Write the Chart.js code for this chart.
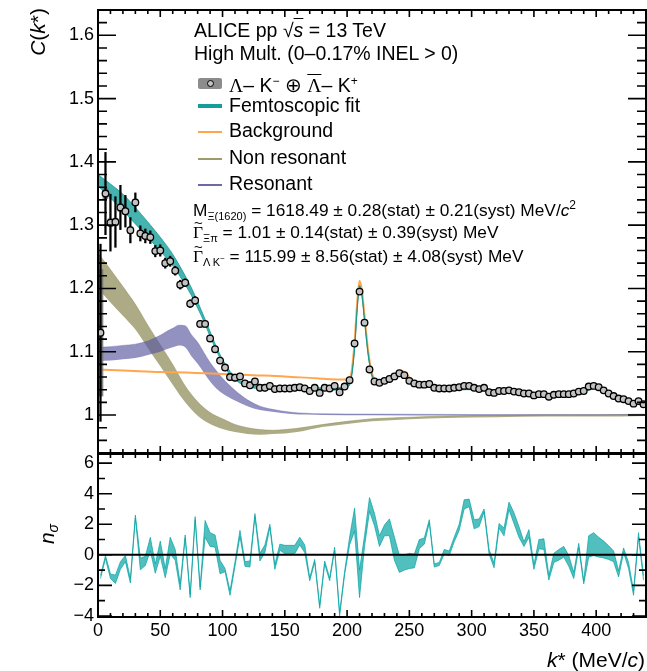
<!DOCTYPE html>
<html>
<head>
<meta charset="utf-8">
<title>Lambda-K correlation, ALICE pp 13 TeV</title>
<script src="https://cdn.jsdelivr.net/npm/chart.js@4.4.1/dist/chart.umd.min.js"></script>
<style>
  html, body { margin: 0; padding: 0; background: #fff; }
  #wrap { position: relative; width: 647px; height: 671px; overflow: hidden;
          font-family: "Liberation Sans", Arial, Helvetica, sans-serif; color: #000; }
  .pane { position: absolute; left: 0; }
  .pane canvas { display: block; }
  .t { position: absolute; white-space: nowrap; font-size: 19.5px; line-height: 19px; }
  .p { font-size: 17.3px; line-height: 17px; }
  .sb { font-size: 11px; vertical-align: -4px; }
  .sp { font-size: 12px; vertical-align: 7px; }
  .gr { font-family: "Liberation Serif", "DejaVu Serif", serif; }
  .ov { text-decoration: overline; }
  .sw { position: absolute; left: 198px; width: 24px; }
  .gam { position: relative; font-family: "Liberation Serif", serif; }
  .gam .tl { position: absolute; left: 1px; top: -9px; font-family: "Liberation Sans", sans-serif; font-size: 15px; }
  .rot { position: absolute; transform-origin: 0 0; transform: rotate(-90deg); white-space: nowrap; }
</style>
</head>
<body>
<div id="wrap">
  <div class="pane" style="top:0"><canvas id="topCanvas" width="647" height="454"></canvas></div>
  <div class="pane" style="top:453px"><canvas id="botCanvas" width="647" height="218"></canvas></div>

  <div class="t" style="left:194px; top:21px">ALICE pp √<span class="ov"><i>s</i></span> = 13 TeV</div>
  <div class="t" style="left:194px; top:44px">High Mult. (0–0.17% INEL &gt; 0)</div>

  <div class="sw" style="top:78px; height:11px; background:#8c8c8c; border-radius:2px"></div>
  <div style="position:absolute; left:207px; top:80px; width:5px; height:5px; border:1px solid #000; border-radius:50%; background:#c4c4c4"></div>
  <div class="t" style="left:229px; top:72px"><span class="gr">Λ</span>– K<span class="sp">−</span> ⊕ <span class="gr ov">Λ</span>– K<span class="sp">+</span></div>

  <div class="sw" style="top:104px; height:4px; background:#159d99"></div>
  <div class="t" style="left:229px; top:96px">Femtoscopic fit</div>
  <div class="sw" style="top:131px; height:2px; background:#ffa449"></div>
  <div class="t" style="left:229px; top:121px">Background</div>
  <div class="sw" style="top:158px; height:2px; background:#9c9b6e"></div>
  <div class="t" style="left:229px; top:148px">Non resonant</div>
  <div class="sw" style="top:184px; height:2px; background:#6c69a6"></div>
  <div class="t" style="left:229px; top:174px">Resonant</div>

  <div class="t p" style="left:193px; top:197px">M<span class="sb">Ξ(1620)</span> = 1618.49 ± 0.28(stat) ± 0.21(syst) MeV/<i>c</i><span class="sp">2</span></div>
  <div class="t p" style="left:193px; top:224px"><span class="gam">Γ<span class="tl">~</span></span><span class="sb">Ξπ</span> = 1.01 ± 0.14(stat) ± 0.39(syst) MeV</div>
  <div class="t p" style="left:193px; top:248px"><span class="gam">Γ<span class="tl">~</span></span><span class="sb">Λ K<sup style="font-size:8px">−</sup></span> = 115.99 ± 8.56(stat) ± 4.08(syst) MeV</div>

  <div class="rot" style="left:27px; top:108px; width:100px; text-align:right; font-size:21px; line-height:22px"><i>C</i>(<i>k</i>*)</div>
  <div class="rot" style="left:36px; top:564px; width:60px; text-align:center; font-size:21px; line-height:22px"><i>n</i><span style="font-size:14px; vertical-align:-4px"><i>σ</i></span></div>
  <div class="t" style="right:2px; top:649px; font-size:21px; line-height:21px"><i>k</i>* (MeV/<i>c</i>)</div>
</div>

<script>
// bin centres k* (MeV/c) and measured correlation
const kStar = [2, 6, 10, 14, 18, 22, 26, 30, 34, 38, 42, 46, 50, 54, 58, 62, 66, 70, 74, 78,
  82, 86, 90, 94, 98, 102, 106, 110, 114, 118, 122, 126, 130, 134, 138, 142, 146, 150, 154, 158,
  162, 166, 170, 174, 178, 182, 186, 190, 194, 198, 202, 206, 210, 214, 218, 222, 226, 230, 234, 238,
  242, 246, 250, 254, 258, 262, 266, 270, 274, 278, 282, 286, 290, 294, 298, 302, 306, 310, 314, 318,
  322, 326, 330, 334, 338, 342, 346, 350, 354, 358, 362, 366, 370, 374, 378, 382, 386, 390, 394, 398,
  402, 406, 410, 414, 418, 422, 426, 430, 434, 438];
const corr = [1.130, 1.350, 1.304, 1.305, 1.328, 1.322, 1.292, 1.336, 1.287, 1.283, 1.281, 1.259, 1.260, 1.240, 1.243, 1.228, 1.206, 1.209, 1.176, 1.181,
  1.144, 1.144, 1.121, 1.104, 1.086, 1.075, 1.060, 1.059, 1.061, 1.050, 1.047, 1.053, 1.043, 1.043, 1.046, 1.041, 1.042, 1.042, 1.042, 1.043,
  1.044, 1.042, 1.038, 1.043, 1.035, 1.043, 1.042, 1.046, 1.036, 1.045, 1.055, 1.113, 1.195, 1.146, 1.072, 1.053, 1.051, 1.054, 1.057, 1.061,
  1.066, 1.063, 1.054, 1.050, 1.048, 1.048, 1.049, 1.043, 1.042, 1.042, 1.042, 1.043, 1.044, 1.046, 1.046, 1.043, 1.041, 1.043, 1.036, 1.035,
  1.038, 1.038, 1.039, 1.037, 1.036, 1.034, 1.034, 1.031, 1.033, 1.033, 1.029, 1.032, 1.033, 1.033, 1.033, 1.034, 1.037, 1.038, 1.045, 1.046,
  1.044, 1.039, 1.034, 1.030, 1.026, 1.025, 1.022, 1.018, 1.022, 1.017];
const statErr = [0.140, 0.065, 0.045, 0.040, 0.035, 0.025, 0.020, 0.015, 0.012, 0.011, 0.010, 0.009, 0.009, 0.008, 0.008, 0.007, 0.007, 0.006, 0.006, 0.006,
  0.005, 0.005, 0.005, 0.005, 0.005, 0.005, 0.005, 0.005, 0.005, 0.005, 0.005, 0.005, 0.005, 0.005, 0.005, 0.005, 0.005, 0.005, 0.005, 0.005,
  0.004, 0.004, 0.004, 0.004, 0.004, 0.004, 0.004, 0.004, 0.004, 0.004, 0.004, 0.004, 0.004, 0.004, 0.004, 0.004, 0.004, 0.004, 0.004, 0.004,
  0.004, 0.004, 0.004, 0.004, 0.004, 0.004, 0.004, 0.004, 0.004, 0.004, 0.004, 0.004, 0.004, 0.004, 0.004, 0.004, 0.004, 0.004, 0.004, 0.004,
  0.004, 0.004, 0.004, 0.004, 0.004, 0.004, 0.004, 0.004, 0.004, 0.004, 0.004, 0.004, 0.004, 0.004, 0.004, 0.004, 0.004, 0.004, 0.004, 0.004,
  0.004, 0.004, 0.004, 0.004, 0.004, 0.004, 0.004, 0.004, 0.004, 0.004];
const systErr = [0.100, 0.008, 0.006, 0.006, 0.006, 0.005, 0.005, 0.005, 0.004, 0.004, 0.004, 0.004, 0.004, 0.004, 0.004, 0.004, 0.004, 0.004, 0.004, 0.004,
  0.003, 0.003, 0.003, 0.003, 0.003, 0.003, 0.003, 0.003, 0.003, 0.003, 0.003, 0.003, 0.003, 0.003, 0.003, 0.003, 0.003, 0.003, 0.003, 0.003,
  0.003, 0.003, 0.003, 0.003, 0.003, 0.003, 0.003, 0.003, 0.003, 0.003, 0.003, 0.003, 0.003, 0.003, 0.003, 0.003, 0.003, 0.003, 0.003, 0.003,
  0.003, 0.003, 0.003, 0.003, 0.003, 0.003, 0.003, 0.003, 0.003, 0.003, 0.003, 0.003, 0.003, 0.003, 0.003, 0.003, 0.003, 0.003, 0.003, 0.003,
  0.003, 0.003, 0.003, 0.003, 0.003, 0.003, 0.003, 0.003, 0.003, 0.003, 0.003, 0.003, 0.003, 0.003, 0.003, 0.003, 0.003, 0.003, 0.003, 0.003,
  0.003, 0.003, 0.003, 0.003, 0.003, 0.003, 0.003, 0.003, 0.003, 0.003];

// femtoscopic fit band (centre, half width)
const fitK = [0, 10, 20, 30, 40, 50, 60, 70, 75, 80, 85, 90, 95, 100, 105, 110, 115, 120, 130, 140,
  160, 180, 196, 200, 203, 206, 208, 210, 212, 214, 217, 220, 224, 230, 236, 240, 244, 248, 252, 256,
  262, 270, 280, 290, 300, 310, 320, 330, 340, 350, 360, 370, 380, 390, 396, 400, 405, 410, 420, 430, 440];
const fitMid = [1.371, 1.354, 1.336, 1.315, 1.293, 1.270, 1.245, 1.213, 1.195, 1.174, 1.152, 1.128, 1.105, 1.085, 1.069, 1.058, 1.051, 1.047, 1.043, 1.042,
  1.041, 1.041, 1.042, 1.046, 1.055, 1.105, 1.165, 1.203, 1.188, 1.150, 1.095, 1.062, 1.051, 1.052, 1.057, 1.062, 1.064, 1.059, 1.052, 1.048,
  1.047, 1.044, 1.042, 1.042, 1.042, 1.040, 1.037, 1.036, 1.035, 1.033, 1.032, 1.032, 1.034, 1.038, 1.043, 1.044, 1.041, 1.035, 1.026, 1.020, 1.017];
const fitHalf = [0.009, 0.011, 0.013, 0.013, 0.012, 0.011, 0.009, 0.007, 0.006, 0.005, 0.004, 0.004, 0.003, 0.003, 0.003, 0.002, 0.002, 0.002, 0.002, 0.002,
  0.002, 0.002, 0.002, 0.002, 0.002, 0.002, 0.002, 0.002, 0.002, 0.002, 0.002, 0.002, 0.002, 0.002, 0.002, 0.002, 0.002, 0.002, 0.002, 0.002,
  0.002, 0.002, 0.002, 0.002, 0.002, 0.002, 0.002, 0.002, 0.002, 0.002, 0.002, 0.002, 0.002, 0.002, 0.002, 0.002, 0.002, 0.002, 0.002, 0.002, 0.002];

// background contribution
const bkgK = [0, 25, 50, 75, 100, 125, 150, 175, 200, 203, 206, 208, 210, 212, 214, 217, 220, 224, 230, 236,
  240, 244, 248, 252, 256, 262, 270, 280, 290, 300, 310, 320, 330, 340, 350, 360, 370, 380, 390, 396,
  400, 405, 410, 420, 430, 440];
const bkgVal = [1.072, 1.070, 1.068, 1.067, 1.065, 1.063, 1.061, 1.058, 1.056, 1.062, 1.115, 1.175, 1.212, 1.195, 1.157, 1.100, 1.066, 1.055, 1.055, 1.061,
  1.067, 1.070, 1.064, 1.055, 1.050, 1.048, 1.045, 1.043, 1.043, 1.043, 1.041, 1.038, 1.037, 1.036, 1.034, 1.033, 1.033, 1.035, 1.039, 1.044,
  1.045, 1.042, 1.036, 1.027, 1.021, 1.017];

// non resonant part (band)
const nonResK = [0, 10, 20, 30, 40, 50, 60, 70, 80, 90, 100, 110, 120, 130, 140, 150, 160, 180, 200, 220, 250, 280, 320, 360, 400, 440];
const nonResMid = [1.228, 1.204, 1.180, 1.155, 1.124, 1.094, 1.064, 1.033, 1.010, 0.995, 0.986, 0.979, 0.975, 0.973, 0.973, 0.974, 0.976, 0.983, 0.988, 0.992,
  0.995, 0.997, 0.998, 0.999, 0.999, 1.000];
const nonResHalf = [0.028, 0.026, 0.023, 0.020, 0.018, 0.017, 0.016, 0.013, 0.011, 0.009, 0.008, 0.006, 0.005, 0.004, 0.003, 0.003, 0.003, 0.002, 0.002, 0.002,
  0.0015, 0.0015, 0.0015, 0.0015, 0.0015, 0.0015];

// resonant part (band)
const resK = [0, 10, 20, 30, 40, 50, 55, 60, 65, 70, 75, 80, 85, 90, 95, 100, 110, 120, 130, 140, 155, 180, 220, 300, 440];
const resMid = [1.096, 1.097, 1.099, 1.101, 1.106, 1.113, 1.118, 1.122, 1.126, 1.124, 1.110, 1.098, 1.083, 1.068, 1.056, 1.046, 1.031, 1.019, 1.011, 1.007,
  1.003, 1.001, 1.0005, 1.000, 1.000];
const resHalf = [0.011, 0.011, 0.011, 0.011, 0.011, 0.013, 0.014, 0.015, 0.016, 0.017, 0.017, 0.017, 0.016, 0.015, 0.014, 0.012, 0.008, 0.005, 0.003, 0.002,
  0.0015, 0.001, 0.001, 0.0008, 0.0005];

// deviation data - fit in units of sigma, per bin (centre, half width)
const nsigMid = [-1.45, -0.15, -1.4, -1.6, -0.7, -0.25, -1.7, 2.5, -0.6, -0.4, 0.7, -0.9, 0.4, -1.2, 0.6, 0.0, -2.1, 1.2, -2.7, 2.4,
  -2.2, 1.7, 1.0, 0.9, -0.8, -1.0, -2.5, -0.6, 1.4, -0.6, -0.6, 2.6, -0.15, 0.4, 1.9, -0.8, 0.5, 0.35, 0.35, 0.35,
  0.9, 0.4, -1.6, -0.4, -3.4, -0.5, -1.6, 0.4, -3.9, -1.2, 0.9, 2.3, -1.9, 0.9, 3.3, 2.3, 0.9, 1.6, 1.8, 0.4,
  -0.6, -0.5, -0.4, -0.4, 0.7, 0.9, 2.2, -0.7, -0.6, 0.2, 0.1, 1.0, 1.8, 3.3, 3.4, 2.0, 2.1, 2.9, 0.2, -0.7,
  1.9, 1.5, 3.2, 2.4, 1.5, 0.7, 1.4, -0.8, 0.7, 0.7, -1.5, -0.2, 0.0, 0.2, -0.4, -1.35, 0.6, -1.8, 0.55, 0.7,
  0.5, 0.35, 0.15, -0.1, -1.25, 0.3, -0.7, -2.5, 1.3, -1.5];
const nsigHalf = [0.1, 0.1, 0.15, 0.27, 0.25, 0.2, 0.15, 0.1, 0.38, 0.3, 0.44, 0.3, 0.5, 0.3, 0.55, 0.35, 0.2, 0.1, 0.1, 0.1,
  0.1, 0.55, 0.45, 0.4, 0.44, 0.1, 0.15, 0.15, 0.2, 0.15, 0.2, 0.1, 0.25, 0.25, 0.1, 0.15, 0.2, 0.27, 0.27, 0.27,
  0.25, 0.25, 0.1, 0.1, 0.1, 0.1, 0.1, 0.1, 0.1, 0.1, 0.25, 0.75, 0.9, 0.35, 0.45, 0.4, 0.35, 0.35, 0.55, 0.75,
  0.55, 0.5, 0.5, 0.45, 0.3, 0.2, 0.1, 0.1, 0.1, 0.15, 0.15, 0.15, 0.2, 0.3, 0.25, 0.3, 0.25, 0.1, 0.15, 0.15,
  0.15, 0.25, 0.25, 0.35, 0.35, 0.15, 0.25, 0.15, 0.3, 0.35, 0.15, 0.3, 0.35, 0.35, 0.35, 0.2, 0.15, 0.1, 0.7, 0.75,
  0.65, 0.55, 0.45, 0.35, 0.2, 0.15, 0.2, 0.15, 0.15, 0.15];

// axis ticks
const kTicks = [0, 50, 100, 150, 200, 250, 300, 350, 400];
const cTicks = [1, 1.1, 1.2, 1.3, 1.4, 1.5, 1.6];
const nTicks = [-4, -2, 0, 2, 4, 6];

Chart.defaults.font.family = '"Liberation Sans", Arial, Helvetica, sans-serif';
Chart.defaults.color = '#000';

const pts = (xs, ys) => xs.map((x, i) => ({ x, y: ys[i] }));
const edge = (xs, mid, half, s) => xs.map((x, i) => ({ x, y: mid[i] + s * half[i] }));
const span = (xs, mid, err) => xs.map((x, i) => ({ x, y: [mid[i] - err[i], mid[i] + err[i]] }));

// labels of the first/last tick must not push the plot area in
const noLabelPad = s => { s.paddingTop = 0; s.paddingBottom = 0; s.paddingLeft = 0; s.paddingRight = 0; };

// ROOT-like frame: box, inward major/minor ticks on all four sides
const rootAxes = {
  id: 'rootAxes',
  afterDatasetsDraw(chart, args, o) {
    const { ctx, chartArea: a } = chart;
    const x = chart.scales.x, y = chart.scales.y;
    ctx.save();
    ctx.strokeStyle = '#000';
    if (o.zeroLine) {
      const py = y.getPixelForValue(0);
      ctx.lineWidth = 2;
      ctx.beginPath();
      ctx.moveTo(a.left, py);
      ctx.lineTo(a.right, py);
      ctx.stroke();
    }
    ctx.lineWidth = 1.6;
    ctx.beginPath();
    for (let i = Math.ceil(x.min / o.xStep - 1e-6); i * o.xStep <= x.max + 1e-6; i++) {
      const len = i % o.xEvery === 0 ? o.xLen[0] : o.xLen[1];
      const px = x.getPixelForValue(i * o.xStep);
      ctx.moveTo(px, a.top); ctx.lineTo(px, a.top + len);
      ctx.moveTo(px, a.bottom); ctx.lineTo(px, a.bottom - len);
    }
    for (let i = Math.ceil(y.min / o.yStep - 1e-6); i * o.yStep <= y.max + 1e-6; i++) {
      const len = i % o.yEvery === 0 ? o.yLen[0] : o.yLen[1];
      const py = y.getPixelForValue(i * o.yStep);
      ctx.moveTo(a.left, py); ctx.lineTo(a.left + len, py);
      ctx.moveTo(a.right, py); ctx.lineTo(a.right - len, py);
    }
    ctx.stroke();
    ctx.lineWidth = 2;
    ctx.strokeRect(a.left, a.top, a.right - a.left, a.bottom - a.top);
    ctx.restore();
  }
};

const tickFont = { size: 18, family: '"Liberation Sans", Arial, sans-serif' };
const noGrid = { display: false, drawTicks: false };

new Chart(document.getElementById('topCanvas'), {
  type: 'line',
  data: {
    datasets: [
      { data: edge(nonResK, nonResMid, nonResHalf, -1), borderColor: 'transparent', borderWidth: 0, pointRadius: 0, cubicInterpolationMode: 'monotone', order: 60 },
      { data: edge(nonResK, nonResMid, nonResHalf, 1), borderColor: 'rgba(130,128,70,0.5)', borderWidth: 0.8, backgroundColor: 'rgba(130,128,70,0.66)',
        fill: 0, pointRadius: 0, cubicInterpolationMode: 'monotone', order: 60 },
      { data: edge(resK, resMid, resHalf, -1), borderColor: 'transparent', borderWidth: 0, pointRadius: 0, cubicInterpolationMode: 'monotone', order: 50 },
      { data: edge(resK, resMid, resHalf, 1), borderColor: 'rgba(90,88,160,0.45)', borderWidth: 0.8, backgroundColor: 'rgba(90,88,160,0.66)',
        fill: 2, pointRadius: 0, cubicInterpolationMode: 'monotone', order: 50 },
      { data: pts(bkgK, bkgVal), borderColor: '#ffa64f', borderWidth: 2, pointRadius: 0, cubicInterpolationMode: 'monotone', fill: false, order: 40 },
      { data: edge(fitK, fitMid, fitHalf, -1), borderColor: 'rgba(0,150,145,0.72)', borderWidth: 1, pointRadius: 0, cubicInterpolationMode: 'monotone', order: 30 },
      { data: edge(fitK, fitMid, fitHalf, 1), borderColor: 'rgba(0,150,145,0.72)', borderWidth: 1, backgroundColor: 'rgba(0,150,145,0.72)',
        fill: 5, pointRadius: 0, cubicInterpolationMode: 'monotone', order: 30 },
      { type: 'bar', data: span(kStar, corr, systErr), backgroundColor: 'rgba(110,110,110,0.85)', barThickness: 5, grouped: false, order: 20 },
      { type: 'bar', data: span(kStar, corr, statErr), backgroundColor: '#000', barThickness: 1.6, grouped: false, order: 10 },
      { data: pts(kStar, corr), showLine: false, pointRadius: 3.3, pointBackgroundColor: '#c2c2c2',
        pointBorderColor: '#000', pointBorderWidth: 1.3, order: 0 }
    ]
  },
  options: {
    responsive: false,
    animation: false,
    events: [],
    layout: { autoPadding: false, padding: { top: 10, right: 1, bottom: 1, left: 0 } },
    plugins: {
      legend: { display: false },
      tooltip: { enabled: false },
      rootAxes: { xStep: 10, xEvery: 5, xLen: [7, 4], yStep: 0.02, yEvery: 5, yLen: [18, 9] }
    },
    scales: {
      x: { type: 'linear', min: 0, max: 440, offset: false, grid: noGrid, border: { display: false }, ticks: { display: false },
        afterFit: s => { noLabelPad(s); s.height = 0; } },
      y: {
        type: 'linear', min: 0.94, max: 1.64, grid: noGrid, border: { display: false },
        afterBuildTicks: s => { s.ticks = cTicks.map(v => ({ value: v })); },
        afterFit: s => { noLabelPad(s); s.width = 98; },
        ticks: { font: tickFont, padding: 4, callback: v => String(Number(v.toFixed(2))) }
      }
    }
  },
  plugins: [rootAxes]
});

new Chart(document.getElementById('botCanvas'), {
  type: 'line',
  data: {
    datasets: [
      { data: edge(kStar, nsigMid, nsigHalf, -1), borderColor: 'rgba(0,160,160,0.68)', borderWidth: 1, pointRadius: 0, tension: 0 },
      { data: edge(kStar, nsigMid, nsigHalf, 1), borderColor: 'rgba(0,160,160,0.68)', borderWidth: 1, backgroundColor: 'rgba(0,160,160,0.68)',
        fill: 0, pointRadius: 0, tension: 0 }
    ]
  },
  options: {
    responsive: false,
    animation: false,
    events: [],
    layout: { autoPadding: false, padding: { top: 1, right: 1, bottom: 0, left: 0 } },
    plugins: {
      legend: { display: false },
      tooltip: { enabled: false },
      rootAxes: { zeroLine: true, xStep: 10, xEvery: 5, xLen: [7, 4], yStep: 1, yEvery: 2, yLen: [14, 7] }
    },
    scales: {
      x: {
        type: 'linear', min: 0, max: 440, offset: false, grid: noGrid, border: { display: false },
        afterBuildTicks: s => { s.ticks = kTicks.map(v => ({ value: v })); },
        afterFit: s => { noLabelPad(s); s.height = 54; },
        ticks: { font: tickFont, padding: 3, maxRotation: 0 }
      },
      y: {
        type: 'linear', min: -4.07, max: 6.6, grid: noGrid, border: { display: false },
        afterBuildTicks: s => { s.ticks = nTicks.map(v => ({ value: v })); },
        afterFit: s => { noLabelPad(s); s.width = 98; },
        ticks: { font: tickFont, padding: 4, callback: v => String(v).replace('-', '\u2212') }
      }
    }
  },
  plugins: [rootAxes]
});
</script>
</body>
</html>
